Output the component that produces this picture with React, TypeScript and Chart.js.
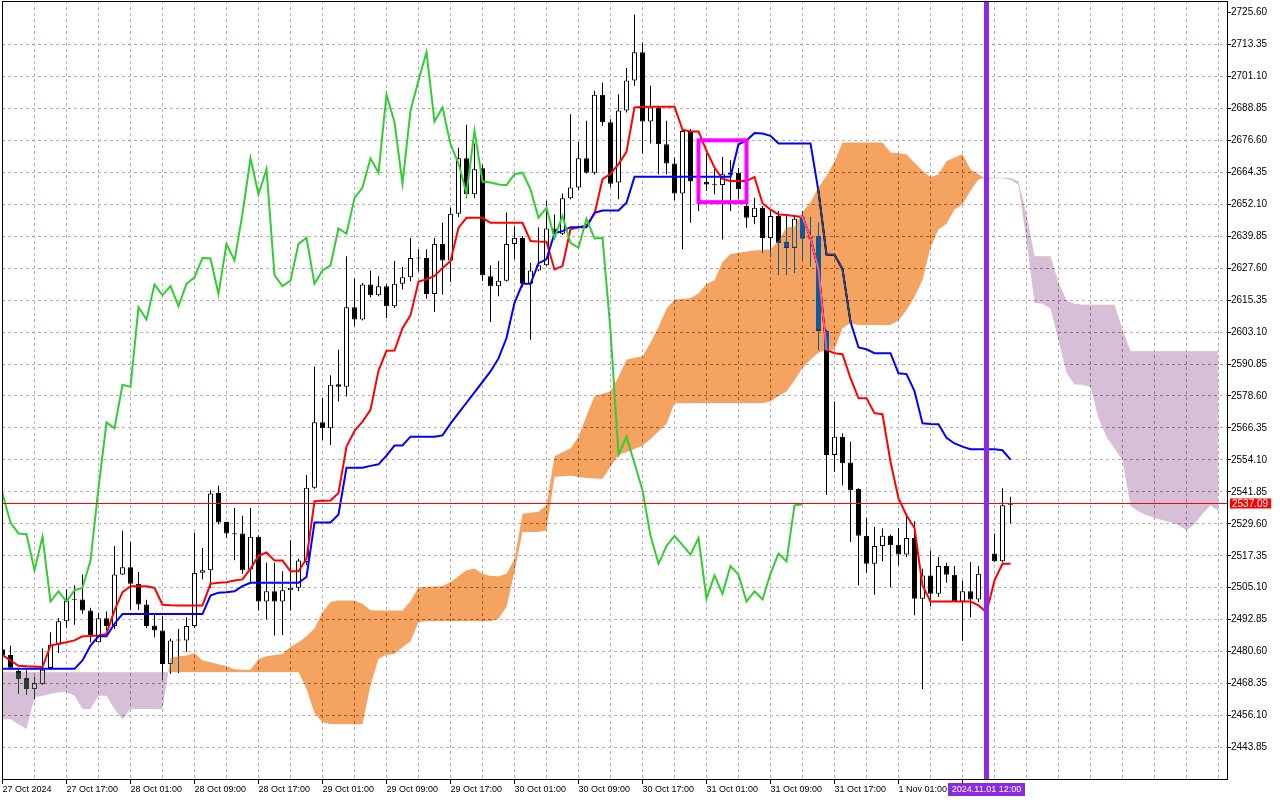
import React, { useEffect, useRef } from "react";
import { Chart, registerables } from "chart.js";

Chart.register(...registerables);

// XAUUSD H1 with Ichimoku (9, 26, 52). One x unit = one hourly bar, bar 0 = 27 Oct 09:00.
const timeLabels = [
  "27 Oct 2024", "27 Oct 17:00", "28 Oct 01:00", "28 Oct 09:00", "28 Oct 17:00",
  "29 Oct 01:00", "29 Oct 09:00", "29 Oct 17:00", "30 Oct 01:00", "30 Oct 09:00",
  "30 Oct 17:00", "31 Oct 01:00", "31 Oct 09:00", "31 Oct 17:00", "1 Nov 01:00",
  "1 Nov 09:00",
];
const LABEL_STEP = 8;
const GRID_STEP = 4;

const priceTicks = [
  2443.85, 2456.1, 2468.35, 2480.6, 2492.85, 2505.1, 2517.35, 2529.6, 2541.85, 2554.1,
  2566.35, 2578.6, 2590.85, 2603.1, 2615.35, 2627.6, 2639.85, 2652.1, 2664.35, 2676.6,
  2688.85, 2701.1, 2713.35, 2725.6,
];

const opens = [
  2481.5, 2479.3, 2473.3, 2470.4, 2466.3, 2468.2, 2474.3, 2483.2, 2492.2, 2500.6,
  2500.6, 2496.4, 2484.2, 2493.4, 2490.4, 2510.2, 2512.9, 2506.6, 2498.7, 2490.6,
  2488.7, 2475.9, 2484.9, 2484.9, 2490.4, 2510.8, 2511.8, 2541.4, 2530.3, 2525.9,
  2525.9, 2512.1, 2524.6, 2499.8, 2503.7, 2499.8, 2504.1, 2505.1, 2515.0, 2543.4,
  2568.5, 2566.2, 2583.1, 2582.1, 2612.6, 2607.9, 2621.3, 2617.2, 2620.7, 2613.0,
  2621.6, 2624.1, 2631.5, 2631.5, 2617.7, 2636.9, 2630.5, 2648.5, 2669.7, 2655.9,
  2665.9, 2624.5, 2620.7, 2622.8, 2636.9, 2639.2, 2621.6, 2626.7, 2628.7, 2642.8,
  2640.8, 2654.4, 2658.5, 2669.7, 2664.2, 2694.1, 2683.5, 2660.4, 2688.0, 2699.5,
  2710.4, 2683.8, 2689.2, 2675.1, 2667.7, 2656.2, 2680.2, 2660.8, 2660.6, 2659.7,
  2659.5, 2663.4, 2664.2, 2651.4, 2647.2, 2650.8, 2639.2, 2647.6, 2637.7, 2635.4,
  2647.0, 2639.0, 2639.9, 2603.6, 2556.0, 2563.0, 2553.1, 2542.9, 2525.0, 2514.3,
  2521.1, 2525.0, 2521.6, 2517.8, 2524.2, 2500.9, 2509.8, 2502.8, 2513.4, 2510.1,
  2499.8, 2503.7, 2500.6, 2510.5, 2518.2, 2515.2, 2536.9,
];
const highs = [
  2484.0, 2482.9, 2474.0, 2473.5, 2471.0, 2481.9, 2488.0, 2493.4, 2504.5, 2506.0,
  2510.2, 2497.4, 2495.5, 2496.0, 2521.1, 2526.9, 2522.7, 2511.1, 2500.5, 2495.1,
  2494.2, 2485.5, 2489.3, 2493.8, 2526.2, 2520.3, 2542.5, 2544.2, 2530.5, 2535.7,
  2532.7, 2535.7, 2525.2, 2514.7, 2514.7, 2511.4, 2523.3, 2516.2, 2548.3, 2589.9,
  2577.8, 2586.5, 2596.3, 2632.2, 2623.6, 2621.9, 2626.7, 2624.5, 2621.5, 2630.3,
  2628.0, 2639.2, 2634.8, 2634.8, 2639.2, 2645.0, 2650.8, 2673.8, 2682.6, 2675.4,
  2667.2, 2628.7, 2630.3, 2648.9, 2643.7, 2639.9, 2629.6, 2643.3, 2653.3, 2648.2,
  2656.2, 2686.6, 2676.0, 2684.1, 2695.6, 2698.8, 2684.7, 2694.3, 2704.3, 2724.8,
  2714.2, 2697.5, 2689.5, 2684.1, 2670.0, 2680.9, 2680.9, 2662.3, 2671.5, 2665.5,
  2670.2, 2669.0, 2666.0, 2657.2, 2654.6, 2651.4, 2649.7, 2649.5, 2647.6, 2648.0,
  2649.5, 2647.0, 2645.0, 2604.0, 2576.5, 2564.3, 2561.1, 2543.2, 2531.9, 2528.4,
  2527.8, 2525.5, 2528.0, 2532.9, 2530.6, 2512.4, 2519.4, 2516.9, 2514.7, 2513.4,
  2507.9, 2515.0, 2513.4, 2520.0, 2525.9, 2543.2, 2540.0,
];
const lows = [
  2478.8, 2473.9, 2464.4, 2464.0, 2462.4, 2467.8, 2474.0, 2480.1, 2489.7, 2490.9,
  2495.1, 2484.2, 2484.1, 2488.7, 2489.3, 2510.0, 2496.6, 2496.6, 2489.7, 2486.1,
  2469.9, 2472.0, 2472.4, 2480.6, 2489.7, 2508.3, 2505.0, 2529.3, 2524.2, 2515.6,
  2510.5, 2507.3, 2496.4, 2492.9, 2486.8, 2487.0, 2496.4, 2503.7, 2513.7, 2543.0,
  2561.7, 2559.8, 2576.5, 2578.4, 2605.3, 2607.5, 2616.4, 2616.8, 2608.5, 2612.3,
  2619.4, 2622.6, 2626.4, 2615.9, 2610.8, 2617.5, 2622.3, 2647.2, 2654.4, 2654.4,
  2622.8, 2607.0, 2616.8, 2622.5, 2630.9, 2620.3, 2600.2, 2626.4, 2628.4, 2640.5,
  2640.3, 2654.0, 2657.5, 2663.8, 2663.5, 2682.2, 2658.5, 2654.0, 2687.3, 2697.5,
  2671.5, 2675.4, 2663.6, 2663.6, 2653.6, 2634.8, 2645.0, 2649.5, 2657.2, 2655.9,
  2638.6, 2649.5, 2654.0, 2643.1, 2644.4, 2633.5, 2631.8, 2625.1, 2625.2, 2625.8,
  2630.9, 2628.3, 2596.3, 2540.6, 2549.6, 2544.4, 2522.6, 2506.0, 2510.9, 2502.4,
  2515.2, 2505.3, 2513.7, 2516.9, 2494.5, 2466.3, 2498.0, 2501.5, 2507.0, 2499.6,
  2484.8, 2493.8, 2499.6, 2505.0, 2515.0, 2514.8, 2529.7,
];
const closes = [
  2479.3, 2474.4, 2470.1, 2466.3, 2468.5, 2473.7, 2483.2, 2492.2, 2500.2, 2500.3,
  2496.4, 2487.0, 2493.4, 2490.4, 2510.2, 2512.9, 2506.6, 2498.7, 2490.4, 2488.7,
  2475.9, 2484.9, 2485.0, 2490.4, 2510.7, 2511.8, 2541.2, 2530.1, 2525.9, 2525.6,
  2511.8, 2524.6, 2499.8, 2503.7, 2499.8, 2504.1, 2505.1, 2515.5, 2543.4, 2568.5,
  2566.2, 2582.9, 2582.1, 2612.6, 2607.9, 2621.3, 2617.2, 2620.7, 2613.0, 2621.6,
  2624.1, 2631.5, 2631.3, 2617.7, 2636.9, 2630.5, 2648.5, 2669.7, 2655.9, 2665.5,
  2624.9, 2620.7, 2622.8, 2636.9, 2639.2, 2621.6, 2626.7, 2628.7, 2642.8, 2640.8,
  2654.4, 2658.5, 2669.7, 2664.2, 2694.1, 2683.5, 2660.0, 2688.0, 2699.5, 2710.4,
  2683.8, 2689.2, 2675.1, 2667.7, 2656.2, 2680.2, 2660.8, 2660.4, 2659.7, 2659.4,
  2663.6, 2664.2, 2657.8, 2646.9, 2650.8, 2639.2, 2647.6, 2637.3, 2635.4, 2646.5,
  2639.0, 2639.2, 2603.6, 2556.0, 2563.0, 2552.8, 2542.5, 2525.0, 2514.3, 2521.1,
  2525.0, 2521.4, 2517.8, 2524.2, 2500.9, 2509.8, 2502.8, 2513.4, 2510.1, 2499.8,
  2503.7, 2500.6, 2510.5, 2518.2, 2515.2, 2536.7, 2537.09,
];

const tenkan = [
  2479.3, 2477.2, 2475.2, 2475.0, 2474.9, 2474.7, 2482.9, 2483.6, 2484.2, 2484.9,
  2486.5, 2486.6, 2486.8, 2487.4, 2496.4, 2503.4, 2505.7, 2505.7, 2505.7, 2505.0,
  2498.6, 2498.4, 2498.3, 2498.3, 2498.3, 2498.3, 2506.6, 2507.0, 2507.2, 2507.9,
  2508.3, 2512.4, 2517.3, 2518.6, 2515.5, 2515.5, 2511.4, 2511.4, 2516.2, 2538.3,
  2538.4, 2538.5, 2541.4, 2559.2, 2565.2, 2568.8, 2573.3, 2588.3, 2595.9, 2596.0,
  2604.6, 2609.5, 2622.5, 2623.3, 2624.6, 2627.6, 2630.3, 2643.1, 2646.9, 2646.9,
  2646.9, 2645.0, 2645.0, 2645.0, 2645.0, 2645.0, 2638.0, 2637.8, 2637.7, 2627.1,
  2628.4, 2642.5, 2643.3, 2644.0, 2648.4, 2661.7, 2663.8, 2667.5, 2672.2, 2689.2,
  2689.5, 2689.5, 2689.5, 2689.5, 2689.5, 2680.7, 2680.0, 2680.0, 2672.6, 2666.2,
  2661.8, 2661.0, 2661.0, 2661.0, 2662.6, 2652.5, 2650.0, 2648.2, 2648.0, 2647.6,
  2647.2, 2639.2, 2627.0, 2596.3, 2595.0, 2594.6, 2585.4, 2577.8, 2577.7, 2572.0,
  2571.6, 2553.4, 2539.3, 2532.9, 2528.0, 2506.0, 2499.8, 2499.8, 2499.8, 2499.8,
  2499.8, 2499.8, 2498.3, 2495.7, 2507.9, 2514.3, 2514.3,
];
const kijun = [
  2474.0, 2474.0, 2474.0, 2474.0, 2474.0, 2474.0, 2474.0, 2474.0, 2474.0, 2474.0,
  2477.2, 2482.9, 2486.5, 2486.5, 2491.3, 2495.0, 2495.0, 2495.0, 2495.0, 2495.0,
  2495.0, 2495.0, 2495.0, 2495.0, 2495.0, 2495.0, 2502.1, 2503.2, 2503.4, 2503.7,
  2505.7, 2507.0, 2507.0, 2507.0, 2507.0, 2507.0, 2507.0, 2507.0, 2509.2, 2530.1,
  2530.1, 2530.1, 2533.2, 2551.1, 2551.1, 2551.1, 2551.8, 2552.4, 2555.7, 2559.6,
  2559.6, 2563.0, 2563.0, 2563.0, 2563.0, 2563.5, 2568.0, 2572.0, 2576.0, 2580.0,
  2584.0, 2588.0, 2593.0, 2600.8, 2614.3, 2621.6, 2621.6, 2629.5, 2631.0, 2641.0,
  2641.8, 2643.3, 2643.3, 2643.3, 2648.8, 2649.7, 2649.7, 2649.7, 2652.7, 2662.6,
  2662.6, 2662.6, 2662.6, 2662.6, 2662.6, 2662.6, 2662.6, 2662.6, 2662.6, 2662.6,
  2662.6, 2662.6, 2675.1, 2676.5, 2679.4, 2679.2, 2678.3, 2675.4, 2675.4, 2675.4,
  2675.4, 2675.4, 2657.0, 2632.8, 2632.7, 2627.2, 2607.0, 2597.2, 2596.5, 2595.0,
  2595.0, 2595.0, 2587.3, 2587.0, 2580.5, 2568.1, 2567.9, 2567.8, 2562.6, 2560.4,
  2559.2, 2558.2, 2558.2, 2558.2, 2558.2, 2557.8, 2554.2,
];
// already shifted 26 bars forward, so they run to bar 152
const spanA = [
  2454.7, 2454.7, 2452.8, 2450.9, 2463.1, 2463.7, 2464.4, 2465.0, 2465.0, 2463.7,
  2458.6, 2458.6, 2463.7, 2463.7, 2458.6, 2454.7, 2458.6, 2458.6, 2458.6, 2458.6,
  2458.6, 2478.1, 2478.8, 2479.1, 2480.1, 2477.2, 2476.5, 2475.8, 2475.0, 2473.8,
  2473.7, 2473.7, 2477.8, 2478.8, 2479.3, 2479.7, 2482.5, 2484.2, 2486.5, 2489.5,
  2495.7, 2499.6, 2500.2, 2500.2, 2500.2, 2499.0, 2496.5, 2496.4, 2496.4, 2496.4,
  2496.4, 2500.0, 2505.2, 2505.4, 2505.6, 2505.7, 2507.3, 2509.5, 2511.8, 2512.5,
  2510.5, 2509.6, 2509.5, 2510.5, 2516.0, 2533.5, 2533.8, 2534.2, 2536.7, 2555.5,
  2557.0, 2558.5, 2563.0, 2571.0, 2578.5, 2579.5, 2580.3, 2586.0, 2592.5, 2593.3,
  2593.8, 2599.0, 2605.0, 2612.0, 2615.6, 2615.8, 2616.1, 2618.0, 2621.5, 2623.0,
  2630.0, 2633.0, 2633.5, 2634.0, 2634.4, 2634.6, 2634.8, 2638.0, 2643.3, 2643.5,
  2649.0, 2653.0, 2658.5, 2663.0, 2668.5, 2675.8, 2675.8, 2675.8, 2675.8, 2675.8,
  2675.8, 2671.9, 2671.6, 2671.3, 2668.0, 2664.9, 2662.5, 2663.5, 2668.7, 2670.0,
  2671.3, 2665.5, 2663.6, 2661.7, 2662.0, 2662.1, 2661.5, 2659.5, 2638.0, 2614.3,
  2614.0, 2612.0, 2600.0, 2587.4, 2583.0, 2582.9, 2582.0, 2570.0, 2563.0, 2558.5,
  2554.0, 2536.5, 2534.3, 2532.9, 2532.0, 2531.0, 2530.2, 2529.1, 2527.1, 2529.5,
  2533.5, 2536.7, 2534.4,
];
const spanB = [
  2472.7, 2472.7, 2472.7, 2472.7, 2472.7, 2472.7, 2472.7, 2472.7, 2472.7, 2472.7,
  2472.7, 2472.7, 2472.7, 2472.7, 2472.7, 2472.7, 2472.7, 2472.7, 2472.7, 2472.7,
  2472.7, 2472.7, 2472.7, 2472.7, 2472.7, 2472.7, 2472.7, 2472.7, 2472.7, 2472.7,
  2472.7, 2472.7, 2472.7, 2472.7, 2472.7, 2472.7, 2472.7, 2472.7, 2466.3, 2457.0,
  2453.5, 2452.8, 2452.8, 2452.8, 2452.8, 2452.8, 2467.6, 2477.8, 2479.4, 2479.7,
  2482.3, 2484.5, 2491.9, 2492.2, 2492.2, 2492.2, 2492.2, 2492.2, 2492.2, 2492.2,
  2492.2, 2492.2, 2493.2, 2497.7, 2511.1, 2526.5, 2526.5, 2526.5, 2527.0, 2547.5,
  2547.8, 2548.0, 2547.5, 2547.2, 2547.0, 2546.8, 2551.5, 2556.0, 2557.0, 2558.3,
  2559.5, 2562.0, 2565.0, 2567.8, 2575.8, 2575.8, 2575.8, 2575.8, 2575.8, 2575.8,
  2575.8, 2575.8, 2575.8, 2575.8, 2575.8, 2575.8, 2576.5, 2578.5, 2580.3, 2584.5,
  2589.3, 2592.5, 2595.2, 2596.2, 2596.3, 2604.6, 2606.5, 2605.8, 2605.8, 2605.8,
  2605.8, 2605.8, 2607.5, 2611.5, 2616.5, 2623.0, 2635.4, 2642.4, 2644.5, 2650.1,
  2652.1, 2657.2, 2661.7, 2662.3, 2662.3, 2662.3, 2662.3, 2660.8, 2648.0, 2632.2,
  2632.2, 2632.2, 2622.0, 2615.3, 2614.0, 2613.6, 2613.6, 2613.6, 2613.6, 2613.6,
  2604.0, 2595.7, 2595.7, 2595.7, 2595.7, 2595.7, 2595.7, 2595.7, 2595.7, 2595.7,
  2595.7, 2595.7, 2595.7,
];

const CHIKOU_SHIFT = 26;

// chart objects placed by hand on the terminal
const markerBar = 123;
const markerText = "2024.11.01 12:00";
const boxBars = [87, 93];
const boxPrices = [2652.9, 2676.6];

const FONT = "'Liberation Sans', Arial, sans-serif";
const GRID = "#b9adbb";
const UP_KUMO = "#f4a460";
const DOWN_KUMO = "#d8bfd8";

// MT5 paints the kumo so that whatever lies under it comes out inverted:
// a "difference" fill with the complement colour does the same thing
const complement = (hex: string) =>
  "#" + (0xffffff ^ parseInt(hex.slice(1), 16)).toString(16).padStart(6, "0");

const pts = (arr: number[], shift = 0) => arr.map((y, i) => ({ x: i - shift, y }));

const whiteBg = {
  id: "whiteBg",
  beforeDraw(chart: any) {
    const { ctx, width, height } = chart;
    ctx.save();
    ctx.fillStyle = "#ffffff";
    ctx.fillRect(0, 0, width, height);
    ctx.restore();
  },
};

const kumoBlend = {
  id: "kumoBlend",
  afterDatasetDraw(chart: any, args: any) {
    const label = chart.data.datasets[args.index].label;
    if (label === "Kijun-sen") chart.ctx.globalCompositeOperation = "difference";
    else if (label === "Senkou Span A") chart.ctx.globalCompositeOperation = "source-over";
  },
};

const overlays = {
  id: "overlays",
  afterDatasetsDraw(chart: any) {
    const { ctx, chartArea: a, scales } = chart;
    const x = scales.x;
    const y = scales.y;
    ctx.save();
    ctx.beginPath();
    ctx.rect(a.left, a.top, a.right - a.left, a.bottom - a.top);
    ctx.clip();

    const bidY = Math.round(y.getPixelForValue(closes[closes.length - 1])) - 0.5;
    ctx.strokeStyle = "#ff0000";
    ctx.lineWidth = 1;
    ctx.beginPath();
    ctx.moveTo(a.left, bidY);
    ctx.lineTo(a.right, bidY);
    ctx.stroke();

    const bx1 = x.getPixelForValue(boxBars[0]);
    const bx2 = x.getPixelForValue(boxBars[1]);
    const by1 = y.getPixelForValue(boxPrices[1]);
    const by2 = y.getPixelForValue(boxPrices[0]);
    ctx.strokeStyle = "#ff00ff";
    ctx.lineWidth = 4;
    ctx.strokeRect(bx1, by1, bx2 - bx1, by2 - by1);

    const vx = x.getPixelForValue(markerBar);
    ctx.strokeStyle = "#8a2be2";
    ctx.lineWidth = 5;
    ctx.beginPath();
    ctx.moveTo(vx, a.top);
    ctx.lineTo(vx, a.bottom);
    ctx.stroke();
    ctx.restore();
  },
  afterDraw(chart: any) {
    const { ctx, chartArea: a, scales } = chart;
    ctx.save();
    ctx.strokeStyle = "#000000";
    ctx.lineWidth = 1;
    ctx.strokeRect(a.left + 0.5, a.top + 0.5, a.right - a.left - 1, a.bottom - a.top - 1);

    ctx.font = `10px ${FONT}`;
    const bid = closes[closes.length - 1];
    const bidY = Math.round(scales.y.getPixelForValue(bid)) - 0.5;
    const bidTxt = bid.toFixed(2);
    const bw = ctx.measureText(bidTxt).width;
    ctx.fillStyle = "#ff0000";
    ctx.fillRect(a.right + 2, bidY - 5, bw + 5, 10);
    ctx.fillStyle = "#ffffff";
    ctx.textBaseline = "middle";
    ctx.textAlign = "left";
    ctx.fillText(bidTxt, a.right + 4, bidY + 0.5);

    ctx.font = `9px ${FONT}`;
    const vx = scales.x.getPixelForValue(markerBar);
    const tw = ctx.measureText(markerText).width;
    ctx.fillStyle = "#8a2be2";
    ctx.fillRect(Math.round(vx - tw / 2 - 4), a.bottom + 3, Math.round(tw + 8), 13);
    ctx.fillStyle = "#ffffff";
    ctx.textAlign = "center";
    ctx.textBaseline = "top";
    ctx.fillText(markerText, vx, a.bottom + 5);
    ctx.restore();
  },
};

export default function App() {
  const canvasRef = useRef<HTMLCanvasElement | null>(null);

  useEffect(() => {
    document.body.style.margin = "0";
    if (!canvasRef.current) return;

    const bodyColors = closes.map((c, i) => (c >= opens[i] ? "#ffffff" : "#000000"));

    const chart = new Chart(canvasRef.current, {
      type: "bar",
      data: {
        datasets: [
          {
            label: "wicks",
            data: closes.map((_, i) => ({ x: i, y: [lows[i], highs[i]] })) as any,
            backgroundColor: "#000000",
            borderWidth: 0,
            barThickness: 1,
            inflateAmount: 0,
            grouped: false,
            order: 7,
          },
          {
            label: "bodies",
            data: closes.map((c, i) => ({ x: i, y: [opens[i], c] })) as any,
            backgroundColor: bodyColors,
            borderColor: "#000000",
            borderWidth: 1,
            borderSkipped: false,
            barThickness: 5,
            minBarLength: 1,
            inflateAmount: 0,
            grouped: false,
            order: 6,
          },
          {
            type: "line",
            label: "Tenkan-sen",
            data: pts(tenkan),
            borderColor: "#ff0000",
            borderWidth: 2,
            pointRadius: 0,
            tension: 0,
            fill: false,
            order: 5,
          },
          {
            type: "line",
            label: "Kijun-sen",
            data: pts(kijun),
            borderColor: "#0000ff",
            borderWidth: 2,
            pointRadius: 0,
            tension: 0,
            fill: false,
            order: 4,
          },
          {
            type: "line",
            label: "Senkou Span B",
            data: pts(spanB),
            borderColor: "rgba(0,0,0,0)",
            borderWidth: 0,
            pointRadius: 0,
            tension: 0,
            fill: false,
            order: 8,
          },
          {
            type: "line",
            label: "Senkou Span A",
            data: pts(spanA),
            borderColor: "rgba(0,0,0,0)",
            borderWidth: 0,
            pointRadius: 0,
            tension: 0,
            fill: { target: 4, above: complement(UP_KUMO), below: complement(DOWN_KUMO) },
            order: 2,
          },
          {
            type: "line",
            label: "Chikou Span",
            data: pts(closes, CHIKOU_SHIFT),
            borderColor: "#32cd32",
            borderWidth: 2,
            pointRadius: 0,
            tension: 0,
            fill: false,
            order: 1,
          },
        ] as any,
      },
      options: {
        animation: false,
        responsive: false,
        devicePixelRatio: 1,
        events: [],
        layout: { padding: { left: 2, top: 1, right: 0, bottom: 0 } },
        plugins: {
          legend: { display: false },
          tooltip: { enabled: false },
        },
        scales: {
          x: {
            type: "linear",
            min: -0.0625,
            max: 153.1875,
            offset: false,
            afterBuildTicks: (s: any) => {
              const t = [];
              for (let v = 0; v <= 152; v += GRID_STEP) t.push({ value: v });
              s.ticks = t;
            },
            afterFit: (s: any) => {
              s.height = 20;
              s.paddingLeft = 0;
              s.paddingRight = 0;
            },
            grid: {
              offset: false,
              color: GRID,
              lineWidth: 1,
              drawTicks: true,
              tickLength: 4,
              tickWidth: 1,
              tickColor: (c: any) =>
                c.tick && c.tick.value % LABEL_STEP === 0 && c.tick.value / LABEL_STEP < timeLabels.length
                  ? "#000000"
                  : "rgba(0,0,0,0)",
            },
            border: { display: false, dash: [3, 3] },
            ticks: {
              autoSkip: false,
              maxRotation: 0,
              minRotation: 0,
              align: "start",
              padding: 0,
              color: "#000000",
              font: { family: FONT, size: 9 },
              callback: (v: any) =>
                v % LABEL_STEP === 0 ? timeLabels[v / LABEL_STEP] ?? "" : "",
            },
          },
          y: {
            type: "linear",
            position: "right",
            min: 2431.392,
            max: 2730.008,
            beginAtZero: false,
            afterBuildTicks: (s: any) => {
              s.ticks = priceTicks.map((value) => ({ value }));
            },
            afterFit: (s: any) => {
              s.width = 52;
              s.paddingTop = 0;
              s.paddingBottom = 0;
            },
            grid: {
              color: (c: any) => (c.index === priceTicks.length - 1 ? "rgba(0,0,0,0)" : GRID),
              lineWidth: 1,
              tickLength: 3,
              tickColor: "#000000",
            },
            border: { display: false, dash: [3, 3] },
            ticks: {
              padding: 0,
              color: "#000000",
              font: { family: FONT, size: 10 },
              callback: (v: any) => Number(v).toFixed(2),
            },
          },
        },
      } as any,
      plugins: [whiteBg, kumoBlend, overlays],
    });

    return () => {
      chart.destroy();
    };
  }, []);

  return (
    <div style={{ width: 1280, height: 800, background: "#ffffff" }}>
      <canvas ref={canvasRef} width={1280} height={800} style={{ display: "block" }} />
    </div>
  );
}
